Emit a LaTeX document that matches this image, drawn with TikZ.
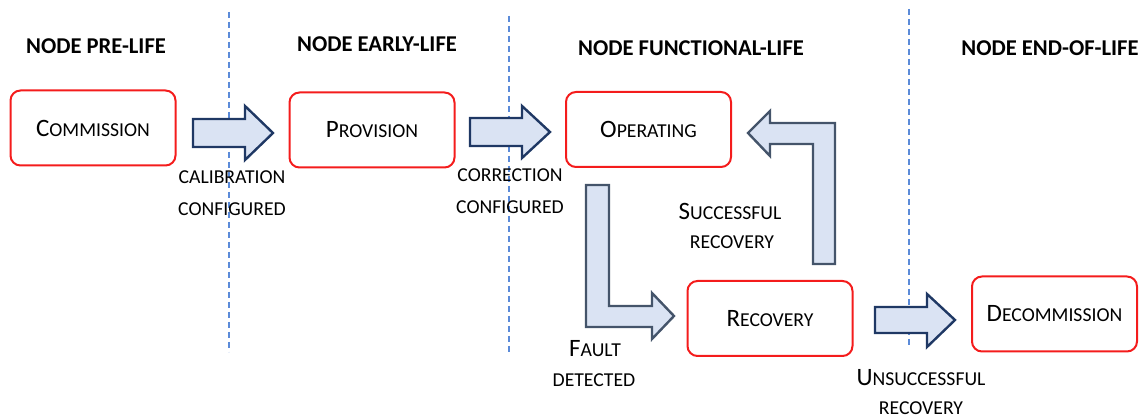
\documentclass[tikz,border=0pt]{standalone}
\usepackage{fontspec}
\setmainfont{Carlito}
\usetikzlibrary{calc}

\definecolor{boxred}{HTML}{F41C1C}
\definecolor{arrowfill}{HTML}{DAE3F3}
\definecolor{navy}{HTML}{1F3864}
\definecolor{slate}{HTML}{44546A}
\definecolor{divider}{HTML}{5B8BD9}

% fake small caps: larger initial capital, smaller remaining capitals
\newcommand{\initcap}[1]{{\fontsize{25}{28}\selectfont #1}}
\newcommand{\restcap}[1]{{\fontsize{19.7}{22}\selectfont #1}}

\tikzset{
  state/.style={draw=boxred, line width=2pt, rounded corners=10pt,
    minimum width=165pt, minimum height=75pt, inner sep=0pt},
  phase/.style={font=\fontsize{22.6}{25}\selectfont\bfseries, inner sep=0pt},
  lbl/.style={inner sep=0pt, align=center},
  blockarrow/.style={fill=arrowfill, draw=navy, line width=2.4pt, line join=miter},
  bentarrow/.style={fill=arrowfill, draw=slate, line width=2.4pt, line join=miter},
  phaseline/.style={draw=divider, line width=1.5pt, dash pattern=on 6pt off 4pt},
}

\begin{document}
\begin{tikzpicture}[x=1pt, y=-1pt]
  \useasboundingbox (0,0) rectangle (1143,419);

  % phase dividers
  \draw[phaseline] (229,12) -- (229,352);
  \draw[phaseline] (509,16) -- (509,355);
  \draw[phaseline] (909,9) -- (909,347);

  % phase headings
  \node[phase] (hpre)   at (96,46)   {NODE PRE-LIFE};
  \node[phase] (hearly) at (377,44)  {NODE EARLY-LIFE};
  \node[phase] (hfunc)  at (691,48)  {NODE FUNCTIONAL-LIFE};
  \node[phase] (hend)   at (1050,48) {NODE END-OF-LIFE};

  % lifecycle states
  \node[state] (comm)   at (93,128)   {\initcap{C}\restcap{OMMISSION}};
  \node[state] (prov)   at (372,130)  {\initcap{P}\restcap{ROVISION}};
  \node[state] (oper)   at (648.5,129.5) {\initcap{O}\restcap{PERATING}};
  \node[state] (recov)  at (770,318.5) {\initcap{R}\restcap{ECOVERY}};
  \node[state] (decomm) at (1054.5,314) {\initcap{D}\restcap{ECOMMISSION}};

  % transition arrows
  \draw[blockarrow] (193,119) -- (245,119) -- (245,106) -- (273,133)
    -- (245,160) -- (245,147) -- (193,147) -- cycle;
  \draw[blockarrow] (470,118) -- (522,118) -- (522,106) -- (550,132)
    -- (522,158) -- (522,146) -- (470,146) -- cycle;
  \draw[blockarrow] (875,307) -- (927,307) -- (927,294) -- (955,320)
    -- (927,347) -- (927,333) -- (875,333) -- cycle;
  % operating -> recovery
  \draw[bentarrow] (586,185) -- (609,185) -- (609,306) -- (652,306) -- (652,293)
    -- (674,316) -- (652,339) -- (652,327) -- (586,327) -- cycle;
  % recovery -> operating
  \draw[bentarrow] (813,264) -- (835,264) -- (835,123) -- (770,123) -- (770,111)
    -- (748,133) -- (770,156) -- (770,144) -- (813,144) -- cycle;

  % transition labels
  \node[lbl] (l1a) at (232,177) {\restcap{CALIBRATION}};
  \node[lbl] (l1b) at (232,209) {\restcap{CONFIGURED}};
  \node[lbl] (l2a) at (510,175) {\restcap{CORRECTION}};
  \node[lbl] (l2b) at (510,207) {\restcap{CONFIGURED}};
  \node[lbl] (l3a) at (730,211) {\initcap{S}\restcap{UCCESSFUL}};
  \node[lbl] (l3b) at (732,242) {\restcap{RECOVERY}};
  \node[lbl] (l4a) at (595,349) {\initcap{F}\restcap{AULT}};
  \node[lbl] (l4b) at (594,380) {\restcap{DETECTED}};
  \node[lbl] (l5a) at (921,378) {\initcap{U}\restcap{NSUCCESSFUL}};
  \node[lbl] (l5b) at (921,408) {\restcap{RECOVERY}};
\end{tikzpicture}
\end{document}
